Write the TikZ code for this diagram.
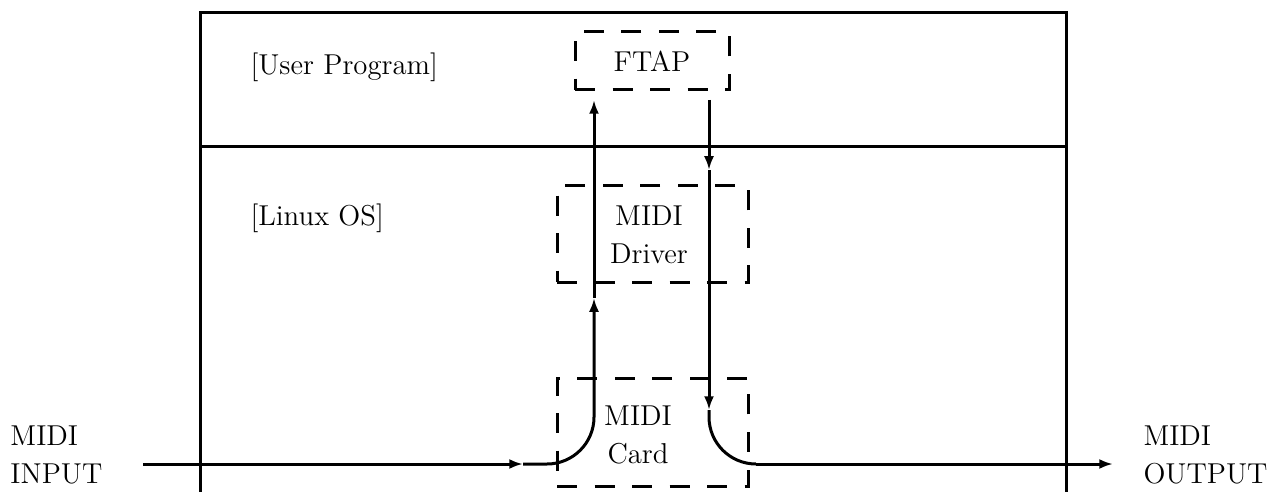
\documentclass[tikz,border=0pt]{standalone}
\usetikzlibrary{arrows.meta}
\begin{document}
\begin{tikzpicture}[x=0.4pt,y=-0.4pt,
  every node/.style={font=\fontsize{11.5}{15}\selectfont},
  frame/.style={line width=1.2pt},
  dbox/.style={draw,line width=1.2pt,dash pattern=on 8pt off 7pt,inner sep=0pt},
  flow/.style={line width=1.2pt},
  tip/.style={-{Latex[length=5.5pt,width=4pt]}},
  txt/.style={inner sep=0pt,align=center}]
\useasboundingbox (0,0) rectangle (1271,492);
% frame
\coordinate (fTL) at (200,13);
\coordinate (fTR) at (1066,13);
\coordinate (fBL) at (200,492);
\coordinate (fBR) at (1066,492);
\coordinate (mL) at (200,147);
\coordinate (mR) at (1066,147);
\draw[frame] (fBL) -- (fTL) -- (fTR) -- (fBR);
\draw[frame] (mL) -- (mR);
% labels
\node[anchor=base west,inner sep=0pt] (lup) at (250,75) {[User Program]};
\node[anchor=base west,inner sep=0pt] (los) at (250,226) {[Linux OS]};
% boxes
\node[dbox,minimum width=154*0.4pt,minimum height=58*0.4pt] (ftap) at (652,61) {};
\node[txt] (ftapt) at (652,61) {FTAP};
\node[dbox,minimum width=191*0.4pt,minimum height=96*0.4pt] (drv) at (652.5,234) {};
\node[txt] (drvt) at (649,235) {MIDI\\Driver};
\node[dbox,minimum width=191*0.4pt,minimum height=108*0.4pt] (card) at (652.5,432) {};
\node[txt] (cardt) at (638,435) {MIDI\\Card};
% side labels
\node[anchor=west,inner sep=0pt,align=left] (inl) at (10,455) {MIDI\\INPUT};
\node[anchor=west,inner sep=0pt,align=left] (outl) at (1143,455) {MIDI\\OUTPUT};
% flow coordinates
\coordinate (inS) at (143,464);
\coordinate (inA) at (523,464);
\coordinate (cL) at (547,464);
\coordinate (upA) at (594,298);
\coordinate (ftIn) at (594,100);
\coordinate (ftOut) at (709,100);
\coordinate (dnA) at (709,170);
\coordinate (dnB) at (709,410);
\coordinate (cR) at (756,464);
\coordinate (outE) at (1113,464);
% input path
\draw[flow,tip] (inS) -- (inA);
\draw[flow,tip] (inA) -- (cL) arc[start angle=90,end angle=0,radius=47] -- (upA);
\draw[flow,tip] (upA) -- (ftIn);
% output path
\draw[flow,tip] (ftOut) -- (dnA);
\draw[flow,tip] (dnA) -- (dnB);
\draw[flow] (dnB) -- (709,417) arc[start angle=180,end angle=90,radius=47] -- (cR);
\draw[flow,tip] (cR) -- (outE);
\end{tikzpicture}
\end{document}
